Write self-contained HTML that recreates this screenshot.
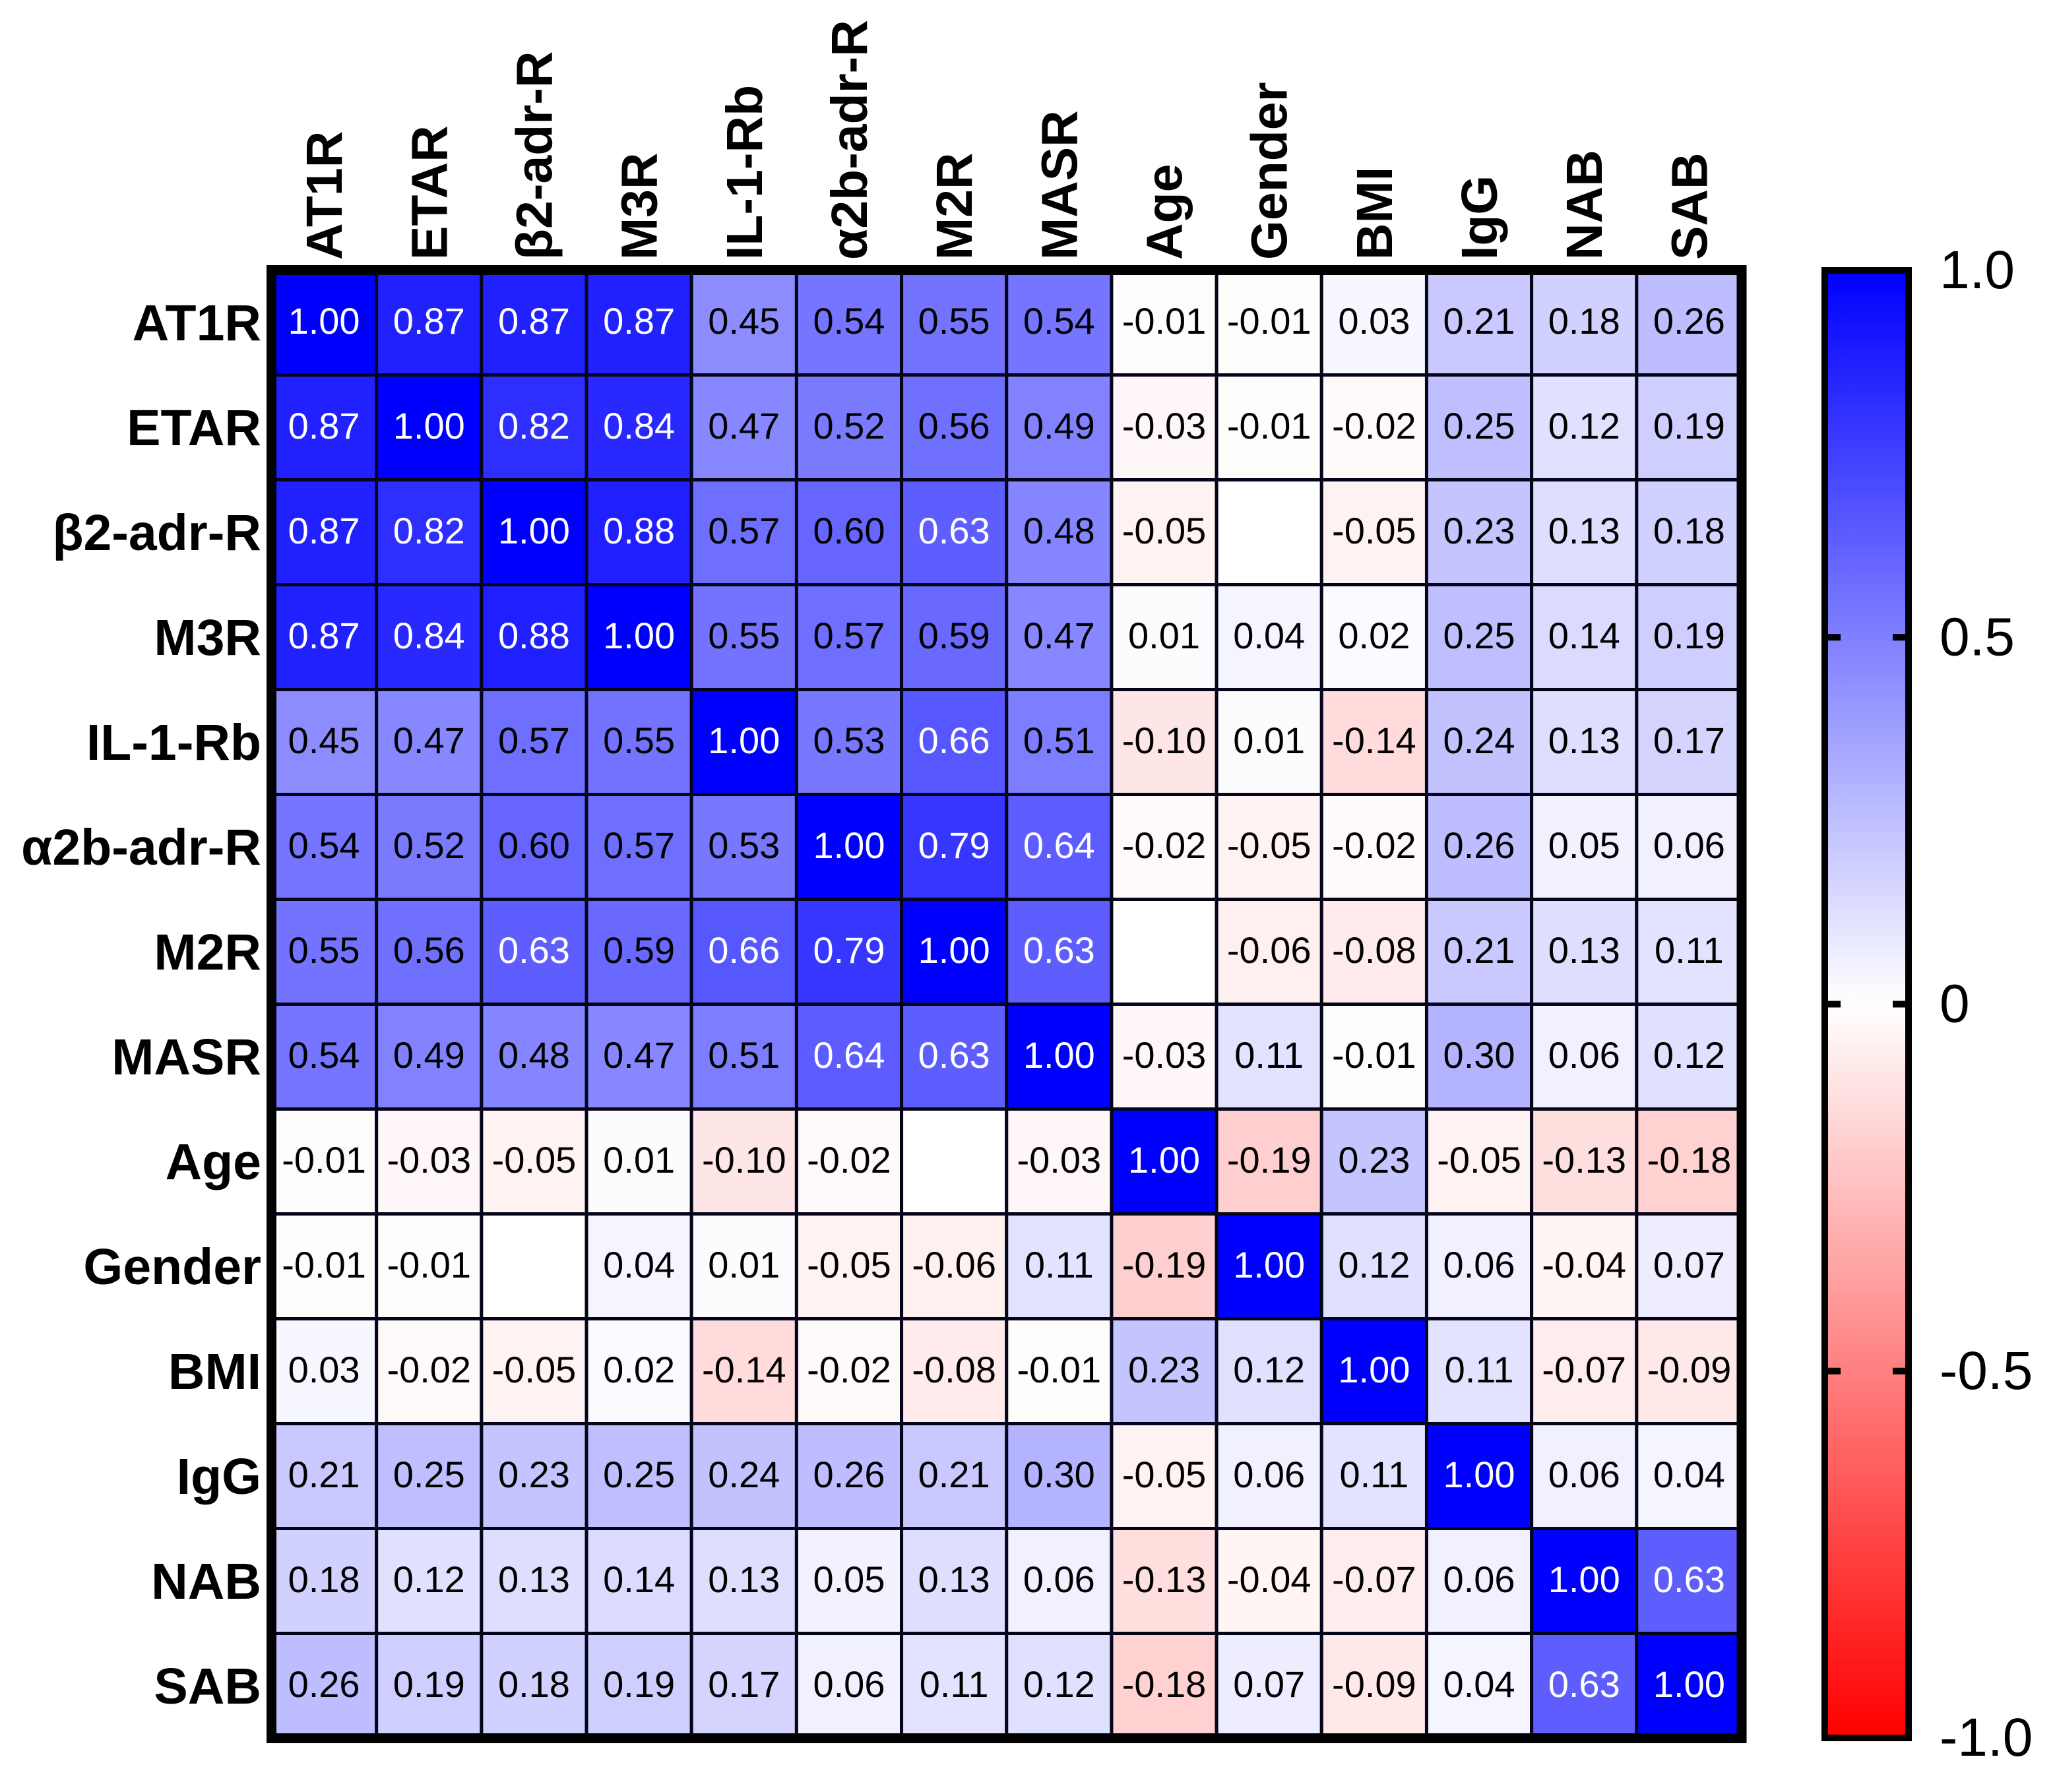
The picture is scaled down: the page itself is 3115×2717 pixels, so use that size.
<!DOCTYPE html>
<html lang="en">
<head>
<meta charset="utf-8">
<title>Correlation heatmap</title>
<style>
html,body{margin:0;padding:0;background:#fff;}
svg{display:block;font-family:"Liberation Sans",Arial,sans-serif;}
</style>
</head>
<body>
<svg id="chart" xmlns="http://www.w3.org/2000/svg" width="3115" height="2717" viewBox="0 0 3115 2717">
  <rect x="0" y="0" width="3115" height="2717" fill="#ffffff"/>
  <g id="cells"></g>
  <g id="row-labels"></g>
  <g id="col-labels"></g>
  <g id="colorbar"></g>
</svg>
<script>
const categories = ["AT1R","ETAR","β2-adr-R","M3R","IL-1-Rb","α2b-adr-R","M2R","MASR","Age","Gender","BMI","IgG","NAB","SAB"];
const rowAT1R   = [1.00,0.87,0.87,0.87,0.45,0.54,0.55,0.54,-0.01,-0.01,0.03,0.21,0.18,0.26];
const rowETAR   = [0.87,1.00,0.82,0.84,0.47,0.52,0.56,0.49,-0.03,-0.01,-0.02,0.25,0.12,0.19];
const rowB2     = [0.87,0.82,1.00,0.88,0.57,0.60,0.63,0.48,-0.05,null,-0.05,0.23,0.13,0.18];
const rowM3R    = [0.87,0.84,0.88,1.00,0.55,0.57,0.59,0.47,0.01,0.04,0.02,0.25,0.14,0.19];
const rowIL1    = [0.45,0.47,0.57,0.55,1.00,0.53,0.66,0.51,-0.10,0.01,-0.14,0.24,0.13,0.17];
const rowA2b    = [0.54,0.52,0.60,0.57,0.53,1.00,0.79,0.64,-0.02,-0.05,-0.02,0.26,0.05,0.06];
const rowM2R    = [0.55,0.56,0.63,0.59,0.66,0.79,1.00,0.63,null,-0.06,-0.08,0.21,0.13,0.11];
const rowMASR   = [0.54,0.49,0.48,0.47,0.51,0.64,0.63,1.00,-0.03,0.11,-0.01,0.30,0.06,0.12];
const rowAge    = [-0.01,-0.03,-0.05,0.01,-0.10,-0.02,null,-0.03,1.00,-0.19,0.23,-0.05,-0.13,-0.18];
const rowGender = [-0.01,-0.01,null,0.04,0.01,-0.05,-0.06,0.11,-0.19,1.00,0.12,0.06,-0.04,0.07];
const rowBMI    = [0.03,-0.02,-0.05,0.02,-0.14,-0.02,-0.08,-0.01,0.23,0.12,1.00,0.11,-0.07,-0.09];
const rowIgG    = [0.21,0.25,0.23,0.25,0.24,0.26,0.21,0.30,-0.05,0.06,0.11,1.00,0.06,0.04];
const rowNAB    = [0.18,0.12,0.13,0.14,0.13,0.05,0.13,0.06,-0.13,-0.04,-0.07,0.06,1.00,0.63];
const rowSAB    = [0.26,0.19,0.18,0.19,0.17,0.06,0.11,0.12,-0.18,0.07,-0.09,0.04,0.63,1.00];
const matrix = [rowAT1R,rowETAR,rowB2,rowM3R,rowIL1,rowA2b,rowM2R,rowMASR,rowAge,rowGender,rowBMI,rowIgG,rowNAB,rowSAB];
const colorbarTicks = [1.0,0.5,0,-0.5,-1.0];
const colorbarTickLabels = ["1.0","0.5","0","-0.5","-1.0"];

const NS = "http://www.w3.org/2000/svg";
const plot = {left:411.5, right:2640, top:409.5, bottom:2635.5};
const bar = {left:2766, right:2893, top:410, bottom:2635};
const xBand = function(i){ return plot.left + i*(plot.right-plot.left)/categories.length; };
const yBand = function(i){ return plot.top + i*(plot.bottom-plot.top)/categories.length; };
const barY = function(v){ return bar.top + (1-v)/2*(bar.bottom-bar.top); };
const colorOf = function(v){
  const k = Math.round(255*(1-Math.abs(v)));
  return v>=0 ? "rgb("+k+","+k+",255)" : "rgb(255,"+k+","+k+")";
};
const make = function(tag, attrs, parent, text){
  const el = document.createElementNS(NS, tag);
  Object.keys(attrs).forEach(function(k){ el.setAttribute(k, attrs[k]); });
  if(text !== undefined) el.textContent = text;
  parent.appendChild(el);
  return el;
};

const cellsG = document.getElementById("cells");
const cw = (plot.right-plot.left)/categories.length;
const ch = (plot.bottom-plot.top)/categories.length;
matrix.forEach(function(row, r){
  row.forEach(function(v, c){
    const rect = make("rect", {x:xBand(c), y:yBand(r), width:cw, height:ch, fill:v===null?"#ffffff":colorOf(v), stroke:"#05051a", "stroke-width":5}, cellsG);
    
    
  });
});
matrix.forEach(function(row, r){
  row.forEach(function(v, c){
    if(v===null) return;
    const label = make("text", {x:xBand(c)+cw/2, y:yBand(r)+ch/2+17, "text-anchor":"middle", "font-size":56, fill:Math.abs(v)>=0.62?"#ffffff":"#000000"}, cellsG, v.toFixed(2));
    
    
  });
});
const frame = make("rect", {x:plot.left, y:plot.top, width:plot.right-plot.left, height:plot.bottom-plot.top, fill:"none", stroke:"#000000", "stroke-width":15}, cellsG);



const rowG = document.getElementById("row-labels");
const colG = document.getElementById("col-labels");
categories.forEach(function(name, i){
  const rl = make("text", {x:396, y:yBand(i)+ch/2+27, "text-anchor":"end", "font-size":77, "font-weight":"bold", fill:"#000"}, rowG, name);
  
  
  const px = xBand(i)+cw/2+27;
  const cl = make("text", {x:0, y:0, transform:"translate("+px+",394) rotate(-90)", "text-anchor":"start", "font-size":77, "font-weight":"bold", fill:"#000"}, colG, name);
  
  
});

const cbG = document.getElementById("colorbar");
const defs = make("defs", {}, cbG);
const grad = make("linearGradient", {id:"cbar-grad", x1:0, y1:0, x2:0, y2:1}, defs);
make("stop", {offset:"0", "stop-color":colorOf(1)}, grad);
make("stop", {offset:"0.5", "stop-color":colorOf(0)}, grad);
make("stop", {offset:"1", "stop-color":colorOf(-1)}, grad);
const cbRect = make("rect", {x:bar.left, y:bar.top, width:bar.right-bar.left, height:bar.bottom-bar.top, fill:"url(#cbar-grad)", stroke:"#000", "stroke-width":10}, cbG);


colorbarTicks.forEach(function(v, i){
  const y = barY(v);
  const t1 = make("line", {x1:bar.left, x2:bar.left+24, y1:y, y2:y, stroke:"#000", "stroke-width":10}, cbG);
  
  
  const t2 = make("line", {x1:bar.right-24, x2:bar.right, y1:y, y2:y, stroke:"#000", "stroke-width":10}, cbG);
  
  
  const lab = make("text", {x:2940, y:y+27, "font-size":82, fill:"#000"}, cbG, colorbarTickLabels[i]);
  
  
});
</script>
</body>
</html>
